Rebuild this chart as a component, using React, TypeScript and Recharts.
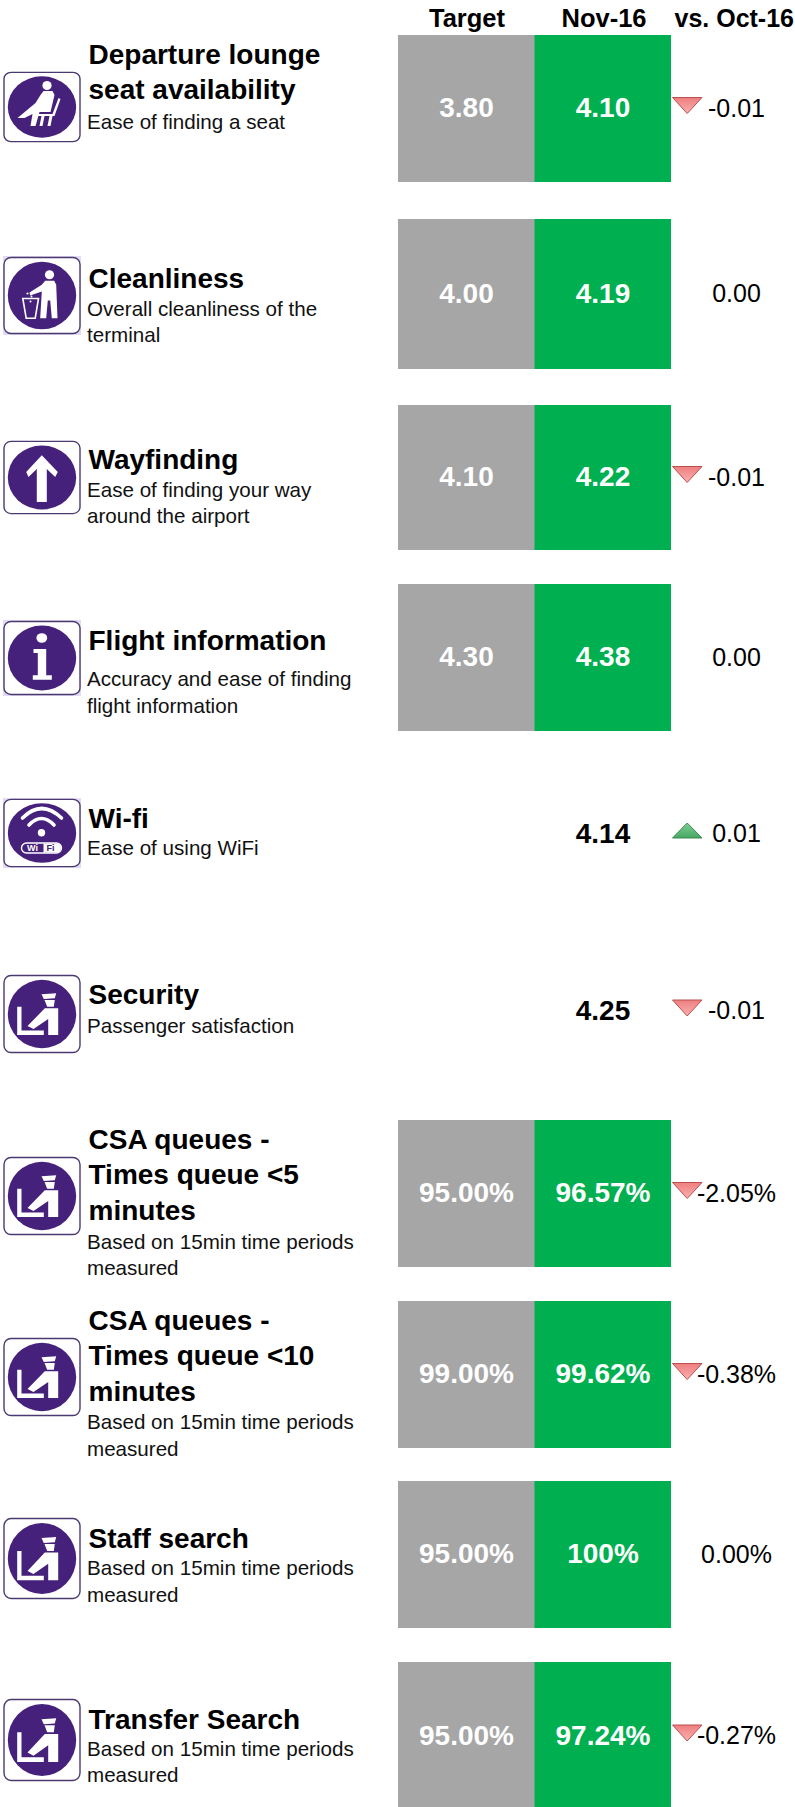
import { BarChart, Bar, XAxis, YAxis, Cell, LabelList } from 'recharts'

const columns = ['Target', 'Nov-16', 'vs. Oct-16']

const titles = [
  ['Departure lounge', 'seat availability'],
  ['Cleanliness'],
  ['Wayfinding'],
  ['Flight information'],
  ['Wi-fi'],
  ['Security'],
  ['CSA queues -', 'Times queue <5', 'minutes'],
  ['CSA queues -', 'Times queue <10', 'minutes'],
  ['Staff search'],
  ['Transfer Search'],
]

const notes = [
  ['Ease of finding a seat'],
  ['Overall cleanliness of the', 'terminal'],
  ['Ease of finding your way', 'around the airport'],
  ['Accuracy and ease of finding', 'flight information'],
  ['Ease of using WiFi'],
  ['Passenger satisfaction'],
  ['Based on 15min time periods', 'measured'],
  ['Based on 15min time periods', 'measured'],
  ['Based on 15min time periods', 'measured'],
  ['Based on 15min time periods', 'measured'],
]

const targets = [3.8, 4.0, 4.1, 4.3, null, null, 95, 99, 95, 95]
const actuals = [4.1, 4.19, 4.22, 4.38, 4.14, 4.25, 96.57, 99.62, 100, 97.24]
const deltas = [-0.01, 0, -0.01, 0, 0.01, -0.01, -2.05, -0.38, 0, -0.27]
const units = ['', '', '', '', '', '', '%', '%', '%', '%']
const icons = ['seat', 'bin', 'arrow', 'info', 'wifi', 'officer', 'officer', 'officer', 'officer', 'officer']

// page layout
const cellTop = [35, 219, 405, 584, 760, 937, 1120, 1301, 1481, 1662]
const cellHeight = [147, 150, 145, 147, 148, 148, 147, 147, 147, 148]
const titleY = [[63.5, 98.5], [287.5], [468.5], [649.5], [827.5], [1003.5], [1148.5, 1183.5, 1219.5], [1329.5, 1364.5, 1400.5], [1547.5], [1728.5]]
const noteY = [[129], [316, 342], [497, 523], [686, 713], [855], [1033], [1249, 1275], [1429, 1456], [1575, 1602], [1756, 1782]]
const iconBox = [[72, 70], [257, 77], [441, 73], [621, 74], [799, 68], [975, 78], [1157, 78], [1338, 78], [1518, 81], [1699, 82]]
const lavender = [false, true, false, true, true, false, false, false, false, false]
// height of the box each pictogram was measured in
const shapeBase: Record<string, number> = { seat: 70, bin: 78, arrow: 73, info: 74, wifi: 68, officer: 78 }

const FONT = '"Liberation Sans", Arial, sans-serif'
const PURPLE = '#46217c'
const BAR_LEFT = 398
const BAR_WIDTH = 273

function formatCell(v: number | null, unit: string) {
  if (v === null) return null
  if (v === 100) return '100%'
  return v.toFixed(2) + unit
}

function formatDelta(v: number, unit: string) {
  return v.toFixed(2) + unit
}

function IconShape({ kind }: { kind: string }) {
  if (kind === 'seat') {
    return (
      <g fill="#fff">
        <circle cx="43.5" cy="13.5" r="4.6" />
        <path d="M40 19 L49 19 L51 23 L47 40 L36 40 L32 54 L27 54 L29 42 L21 46 L14 46 L32 31 L37 23Z" />
        <path d="M55 26 L57 27 L51 44 L33 44 L33 42 L49 42Z" />
        <path d="M38 44 L41 44 L39 54 L36 54Z M46 44 L49 44 L47 54 L44 54Z" />
      </g>
    )
  }
  if (kind === 'bin') {
    return (
      <g fill="#fff">
        <circle cx="46" cy="18" r="4.6" />
        <path d="M41.7 24 L50.7 24 L52.7 28 L54 62 L48.3 62 L46.7 44 L44.3 44 L42.7 62 L36.7 62 L38.3 35 L26.7 39 L26 36 L38.3 28Z" />
        <path d="M19.3 42 L35 42 L31.7 62 L22.7 62Z" fill="none" stroke="#fff" strokeWidth="1.6" />
        <circle cx="24" cy="37" r="1.1" />
        <circle cx="28" cy="40" r="1" />
        <circle cx="27" cy="45" r="1" />
      </g>
    )
  }
  if (kind === 'arrow') {
    return <path fill="#fff" d="M38.3 14.3 L54.3 31 L51.7 36 L43.3 28 L43.3 61 L33.3 61 L33.3 28 L25 36 L22.7 31Z" />
  }
  if (kind === 'info') {
    return (
      <g fill="#fff">
        <ellipse cx="38.3" cy="17" rx="5.4" ry="4.8" />
        <path d="M30 28 L42.7 28 L42.7 54.3 L48.3 54.3 L48.3 58.7 L29.3 58.7 L29.3 54.3 L34.3 54.3 L34.3 32 L30 32Z" />
      </g>
    )
  }
  if (kind === 'wifi') {
    return (
      <g>
        <path d="M19 19 Q38 0 58 19" fill="none" stroke="#fff" strokeWidth="3.6" strokeLinecap="round" />
        <path d="M25.5 26 Q38 13 50.5 26" fill="none" stroke="#fff" strokeWidth="3.6" strokeLinecap="round" />
        <circle cx="38" cy="33.7" r="3.7" fill="#fff" />
        <rect x="18" y="44" width="40" height="10" rx="5" fill={PURPLE} stroke="#fff" strokeWidth="1.4" />
        <path d="M40 44.5 H53 A4.5 4.5 0 0 1 53 53.5 H40Z" fill="#fff" />
        <text x="29" y="52.4" fontSize="9" fontWeight="bold" fontFamily={FONT} fill="#fff" textAnchor="middle">Wi</text>
        <text x="47" y="52.4" fontSize="9" fontWeight="bold" fontFamily={FONT} fill={PURPLE} textAnchor="middle">Fi</text>
      </g>
    )
  }
  return (
    <g fill="#fff">
      <path d="M38 19.3 L52.7 18.3 L51.3 23.3 L40.3 24Z" />
      <path d="M41 25 L51.3 25 L50.3 31.7 L43.7 31.7Z" />
      <path d="M41.3 33.3 L54.7 33.3 L54.7 60 L44.7 60 L44.7 44 L30 54 L24 51Z" />
      <path d="M13.7 31.7 L18 31.7 L18 55.5 L40.3 55.5 L40.3 60 L13.7 60Z" />
    </g>
  )
}

function Icon({ kind, top, height, tint }: { kind: string; top: number; height: number; tint: boolean }) {
  return (
    <g transform={`translate(3.5 ${top})`}>
      <g transform={`scale(1 ${height / 78})`}>
        {tint && <rect x="-0.5" y="-1" width="78" height="80" fill="#e2d9f2" />}
        <rect x="0.5" y="0.5" width="76" height="77" rx="7" fill="#fff" stroke="#4b3a72" strokeWidth="1.4" />
        <circle cx="38.5" cy="39" r="34.2" fill={PURPLE} />
      </g>
      <g transform={`scale(1 ${height / shapeBase[kind]})`}>
        <IconShape kind={kind} />
      </g>
    </g>
  )
}

function Triangle({ up, cy }: { up: boolean; cy: number }) {
  const points = up
    ? `672.5,${cy + 5} 702,${cy + 5} 687.2,${cy - 10}`
    : `672.5,${cy - 10} 702,${cy - 10} 687.2,${cy + 6}`
  return (
    <polygon
      points={points}
      fill={up ? 'url(#deltaUp)' : 'url(#deltaDown)'}
      stroke={up ? '#3f8a52' : '#b9504f'}
      strokeWidth={1}
    />
  )
}

function RowCells({ index }: { index: number }) {
  const target = targets[index]
  const hasBars = target !== null
  const rows = [
    { name: columns[0], cell: hasBars ? 1 : null, label: formatCell(target, units[index]) },
    { name: columns[1], cell: 1, label: formatCell(actuals[index], units[index]) },
  ]
  const colours = hasBars ? ['#a6a6a6', '#00b050'] : ['none', 'none']

  return (
    <div style={{ position: 'absolute', left: BAR_LEFT, top: cellTop[index] }}>
      <BarChart
        width={BAR_WIDTH}
        height={cellHeight[index]}
        data={rows}
        barCategoryGap={0}
        margin={{ top: 0, right: 0, bottom: 0, left: 0 }}
      >
        <XAxis dataKey="name" hide />
        <YAxis hide domain={[0, 1]} />
        <Bar dataKey="cell" isAnimationActive={false}>
          {rows.map((r, i) => (
            <Cell key={r.name} fill={colours[i]} />
          ))}
          <LabelList
            dataKey="label"
            position="center"
            fill={hasBars ? '#fff' : '#000'}
            fontSize={28}
            fontWeight="bold"
            fontFamily={FONT}
            dy={-1}
          />
        </Bar>
      </BarChart>
    </div>
  )
}

export default function App() {
  return (
    <div
      style={{
        position: 'absolute', left: 0, top: 0, width: 795, height: 1807,
        overflow: 'hidden', background: '#fff', fontFamily: FONT,
      }}
    >
      <svg width={795} height={1807} style={{ position: 'absolute', left: 0, top: 0 }}>
        <defs>
          <linearGradient id="deltaDown" x1="0" y1="0" x2="0" y2="1">
            <stop offset="0" stopColor="#ee7f7f" />
            <stop offset="1" stopColor="#fbb0b0" />
          </linearGradient>
          <linearGradient id="deltaUp" x1="0" y1="0" x2="0" y2="1">
            <stop offset="0" stopColor="#7fcf93" />
            <stop offset="1" stopColor="#46a862" />
          </linearGradient>
        </defs>

        <g fontWeight="bold" fill="#000" fontFamily={FONT}>
          <text x={467} y={27} fontSize={25.5} textAnchor="middle">{columns[0]}</text>
          <text x={604} y={27} fontSize={25.5} textAnchor="middle">{columns[1]}</text>
          <text x={794} y={27} fontSize={25} textAnchor="end">{columns[2]}</text>
        </g>

        {titles.map((lines, i) => (
          <g key={i} fontFamily={FONT}>
            <Icon kind={icons[i]} top={iconBox[i][0]} height={iconBox[i][1]} tint={lavender[i]} />
            {lines.map((line, j) => (
              <text key={j} x={88.5} y={titleY[i][j]} fontSize={28} fontWeight="bold" fill="#000">{line}</text>
            ))}
            {notes[i].map((line, j) => (
              <text key={j} x={87} y={noteY[i][j]} fontSize={20.6} fill="#111">{line}</text>
            ))}
          </g>
        ))}
      </svg>

      {titles.map((_, i) => (
        <RowCells key={i} index={i} />
      ))}

      <svg width={795} height={1807} style={{ position: 'absolute', left: 0, top: 0, pointerEvents: 'none' }}>
        {deltas.map((d, i) => {
          const cy = cellTop[i] + cellHeight[i] / 2 - 1
          return (
            <g key={i}>
              {d !== 0 && <Triangle up={d > 0} cy={cy} />}
              <text x={736.5} y={cy + 9} fontSize={25} textAnchor="middle" fill="#000" fontFamily={FONT}>
                {formatDelta(d, units[i])}
              </text>
            </g>
          )
        })}
      </svg>
    </div>
  )
}
